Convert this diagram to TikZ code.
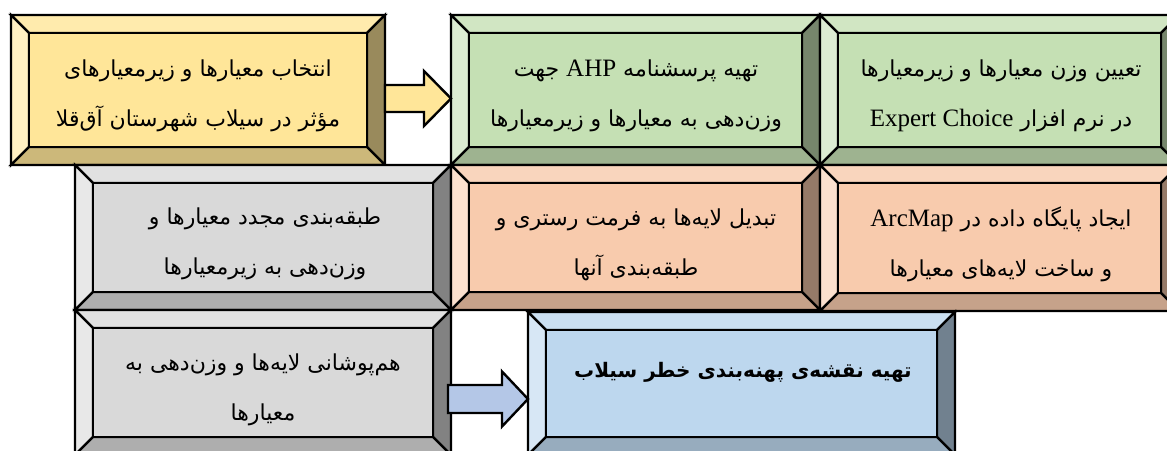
\documentclass[tikz,border=0pt]{standalone}
\usepackage{fontspec}
\usetikzlibrary{calc}
\TeXXeTstate=1
\newfontfamily\fa[Script=Arabic]{DejaVu Sans}
\newfontfamily\lat{Liberation Serif}
\newcommand\latsz{\lat\fontsize{25}{50}\selectfont}
\definecolor{cyel}{HTML}{FFE699}
\definecolor{cgrn}{HTML}{C5E0B4}
\definecolor{cgry}{HTML}{D9D9D9}
\definecolor{csal}{HTML}{F8CBAD}
\definecolor{cblu}{HTML}{BDD7EE}
\definecolor{carrb}{HTML}{B4C7E7}
\tikzset{
  edge/.style={draw=black, line width=2.4pt, line join=miter},
  boxnode/.style={rectangle, inner sep=0pt, outer sep=0pt},
  txt/.style={font=\fa\fontsize{22}{50}\selectfont, align=center, inner sep=0pt},
  btxt/.style={font=\fa\bfseries\fontsize{20}{50}\selectfont, align=center, inner sep=0pt},
}
\newcommand\bevbox[6]{%
  \node[boxnode, minimum width={(#4-#2)*1pt}, minimum height={(#5-#3)*1pt}] (#1) at ({(#2+#4)/2},{(#3+#5)/2}) {};
  \coordinate (#1-a) at ($(#1.north west)+(18,18)$);
  \coordinate (#1-b) at ($(#1.north east)+(-18,18)$);
  \coordinate (#1-c) at ($(#1.south east)+(-18,-18)$);
  \coordinate (#1-d) at ($(#1.south west)+(18,-18)$);
  \filldraw[edge, fill=#6!80!white] (#1.north west) -- (#1.north east) -- (#1-b) -- (#1-a) -- cycle;
  \filldraw[edge, fill=#6!60!white] (#1.north west) -- (#1-a) -- (#1-d) -- (#1.south west) -- cycle;
  \filldraw[edge, fill=#6!60!black] (#1.north east) -- (#1.south east) -- (#1-c) -- (#1-b) -- cycle;
  \filldraw[edge, fill=#6!80!black] (#1.south west) -- (#1-d) -- (#1-c) -- (#1.south east) -- cycle;
  \filldraw[edge, fill=#6] (#1-a) rectangle (#1-c);
}
\begin{document}
\begin{tikzpicture}[x=1pt, y=-1pt]
\useasboundingbox (0,0) rectangle (1167,450);
\clip (0,0) rectangle (1167,450);
\fill[white] (0,0) rectangle (1167,450);
% row 1
\bevbox{yel}{11}{15}{385}{165}{cyel}
\bevbox{grnA}{451}{15}{820}{165}{cgrn}
\bevbox{grnB}{820}{15}{1179}{165}{cgrn}
% row 2
\bevbox{gryA}{75}{165}{451}{310}{cgry}
\bevbox{salA}{451}{165}{820}{310}{csal}
\bevbox{salB}{820}{165}{1179}{311}{csal}
% row 3
\bevbox{gryB}{75}{310}{451}{455}{cgry}
\bevbox{blu}{528}{312}{955}{455}{cblu}
% texts
\node[txt] (tyel) at (198,96) {\beginR انتخاب معیارها و زیرمعیارهای\endR\\\beginR مؤثر در سیلاب شهرستان آق‌قلا\endR};
\node[txt] (tgrnA) at (636,96) {\beginR تهیه پرسشنامه \beginL{\latsz AHP}\endL{} جهت\endR\\\beginR وزن‌دهی به معیارها و زیرمعیارها\endR};
\node[txt] (tgrnB) at (1001,96) {\beginR تعیین وزن معیارها و زیرمعیارها\endR\\\beginR در نرم افزار \beginL{\latsz Expert Choice}\endL\endR};
\node[txt] (tgryA) at (265,244) {\beginR طبقه‌بندی مجدد معیارها و\endR\\\beginR وزن‌دهی به زیرمعیارها\endR};
\node[txt] (tsalA) at (636,245) {\beginR تبدیل لایه‌ها به فرمت رستری و\endR\\\beginR طبقه‌بندی آنها\endR};
\node[txt] (tsalB) at (1001,244) {\beginR ایجاد پایگاه داده در \beginL{\latsz ArcMap}\endL\endR\\\beginR و ساخت لایه‌های معیارها\endR};
\node[txt] (tgryB) at (263,390) {\beginR هم‌پوشانی لایه‌ها و وزن‌دهی به\endR\\\beginR معیارها\endR};
\node[btxt] (tblu) at (743,372) {\beginR تهیه نقشه‌ی پهنه‌بندی خطر سیلاب\endR};
% arrows
\coordinate (ya) at ($(yel.east)+(0,8.5)$);
\coordinate (yb) at (ya -| grnA.west);
\filldraw[edge, fill=cyel] ($(ya)+(0,-13.5)$) -- ($(yb)+(-27,-13.5)$) -- ($(yb)+(-27,-27.5)$) -- (yb) -- ($(yb)+(-27,27.5)$) -- ($(yb)+(-27,13.5)$) -- ($(ya)+(0,13.5)$) -- cycle;
\coordinate (ba) at ($(gryB.east)+(-3,16.5)$);
\coordinate (bb) at (ba -| blu.west);
\filldraw[edge, fill=carrb] ($(ba)+(0,-14)$) -- ($(bb)+(-26,-14)$) -- ($(bb)+(-26,-27.5)$) -- (bb) -- ($(bb)+(-26,27.5)$) -- ($(bb)+(-26,14)$) -- ($(ba)+(0,14)$) -- cycle;
\end{tikzpicture}
\end{document}
